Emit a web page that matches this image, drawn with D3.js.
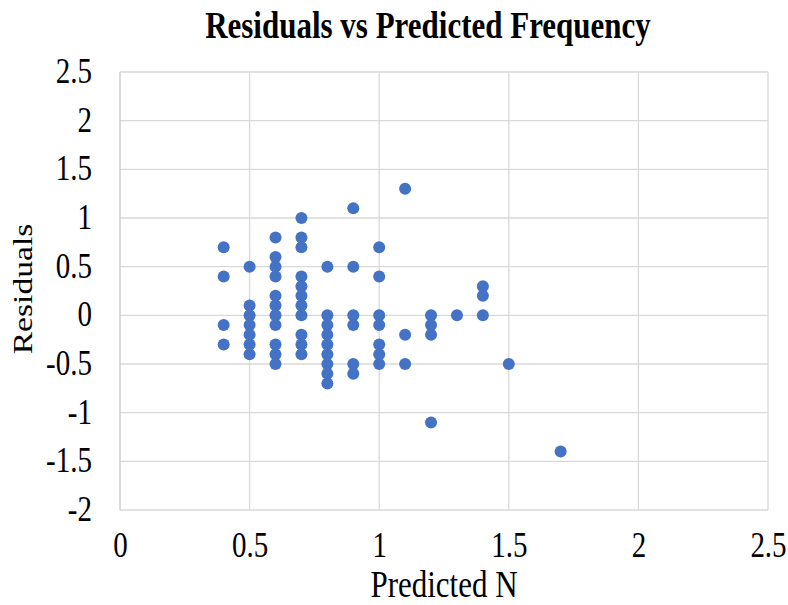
<!doctype html>
<html>
  <head>
    <meta charset="UTF-8"/>
    <title>Residuals vs Predicted Frequency</title>
    <script src="https://d3js.org/d3.v7.min.js"></script>
    <style>
      body { margin: 0; padding: 0; background: #fff; }
      svg text { font-family: "Liberation Serif", "Times New Roman", serif; fill: #000; }
    </style>
  </head>
  <body>
    <svg id="chart" width="788" height="605"></svg>
    <script>
      // predicted N for each point, and its residual
      const predicted = [
        0.4, 0.4, 0.4, 0.4,
        0.5, 0.5, 0.5, 0.5, 0.5, 0.5, 0.5,
        0.6, 0.6, 0.6, 0.6, 0.6, 0.6, 0.6, 0.6, 0.6, 0.6, 0.6,
        0.7, 0.7, 0.7, 0.7, 0.7, 0.7, 0.7, 0.7, 0.7, 0.7, 0.7,
        0.8, 0.8, 0.8, 0.8, 0.8, 0.8, 0.8, 0.8, 0.8,
        0.9, 0.9, 0.9, 0.9, 0.9, 0.9,
        1.0, 1.0, 1.0, 1.0, 1.0, 1.0, 1.0,
        1.1, 1.1, 1.1,
        1.2, 1.2, 1.2, 1.2,
        1.3,
        1.4, 1.4, 1.4,
        1.5,
        1.7
      ];
      const residuals = [
        0.7, 0.4, -0.1, -0.3,
        0.5, 0.1, 0, -0.1, -0.2, -0.3, -0.4,
        0.8, 0.6, 0.5, 0.4, 0.2, 0.1, 0, -0.1, -0.3, -0.4, -0.5,
        1.0, 0.8, 0.7, 0.4, 0.3, 0.2, 0.1, 0, -0.2, -0.3, -0.4,
        0.5, 0, -0.1, -0.2, -0.3, -0.4, -0.5, -0.6, -0.7,
        1.1, 0.5, 0, -0.1, -0.5, -0.6,
        0.7, 0.4, 0, -0.1, -0.3, -0.4, -0.5,
        1.3, -0.2, -0.5,
        0, -0.1, -0.2, -1.1,
        0,
        0.3, 0.2, 0,
        -0.5,
        -1.4
      ];
      const xTicks = [0, 0.5, 1, 1.5, 2, 2.5];
      const yTicks = [-2, -1.5, -1, -0.5, 0, 0.5, 1, 1.5, 2, 2.5];

      const svg = d3.select("#chart");
      const m = { left: 120, right: 768, top: 72, bottom: 510 };
      const stretch = 1.2; // text in the picture is a bit taller than wide

      const x = d3.scaleLinear().domain([0, 2.5]).range([m.left, m.right]);
      const y = d3.scaleLinear().domain([-2, 2.5]).range([m.bottom, m.top]);

      // grid
      svg.append("g")
        .selectAll("line")
        .data(yTicks)
        .join("line")
        .attr("x1", m.left).attr("x2", m.right)
        .attr("y1", d => y(d)).attr("y2", d => y(d))
        .attr("stroke", "#d9d9d9").attr("stroke-width", 1.3);
      svg.append("g")
        .selectAll("line")
        .data(xTicks)
        .join("line")
        .attr("x1", d => x(d)).attr("x2", d => x(d))
        .attr("y1", m.top).attr("y2", m.bottom)
        .attr("stroke", d => d === 0 ? "#c8c8c8" : "#d9d9d9").attr("stroke-width", 1.3);

      // axes, labels only
      const fmt = d => String(d);
      const xAxis = svg.append("g")
        .attr("transform", `translate(0,${m.bottom})`)
        .call(d3.axisBottom(x).tickValues(xTicks).tickFormat(fmt).tickSize(0));
      const yAxis = svg.append("g")
        .attr("transform", `translate(${m.left},0)`)
        .call(d3.axisLeft(y).tickValues(yTicks).tickFormat(fmt).tickSize(0).tickPadding(28));
      [xAxis, yAxis].forEach(a => {
        a.select(".domain").remove();
        a.selectAll("text")
          .attr("font-family", "Liberation Serif, Times New Roman, serif")
          .attr("font-size", 29)
          .attr("fill", "#000")
          .attr("transform", `scale(1,${stretch})`);
      });
      yAxis.selectAll("text").attr("dy", "0.3em");
      xAxis.selectAll("text").attr("y", 47 / stretch).attr("dy", 0);

      // points
      svg.append("g")
        .selectAll("circle")
        .data(predicted.map((p, i) => [p, residuals[i]]))
        .join("circle")
        .attr("cx", d => x(d[0]))
        .attr("cy", d => y(d[1]))
        .attr("r", 6)
        .attr("fill", "#4472c4");

      // titles
      svg.append("text")
        .attr("transform", `translate(428,38) scale(1,${stretch})`)
        .attr("text-anchor", "middle")
        .attr("font-size", 31).attr("font-weight", "bold")
        .text("Residuals vs Predicted Frequency");
      svg.append("text")
        .attr("transform", `translate(32,289) rotate(-90) scale(${stretch},1)`)
        .attr("text-anchor", "middle")
        .attr("font-size", 28)
        .text("Residuals");
      svg.append("text")
        .attr("transform", `translate(${(m.left + m.right) / 2},597) scale(1,${stretch})`)
        .attr("text-anchor", "middle")
        .attr("font-size", 31)
        .text("Predicted N");
    </script>
  </body>
</html>
